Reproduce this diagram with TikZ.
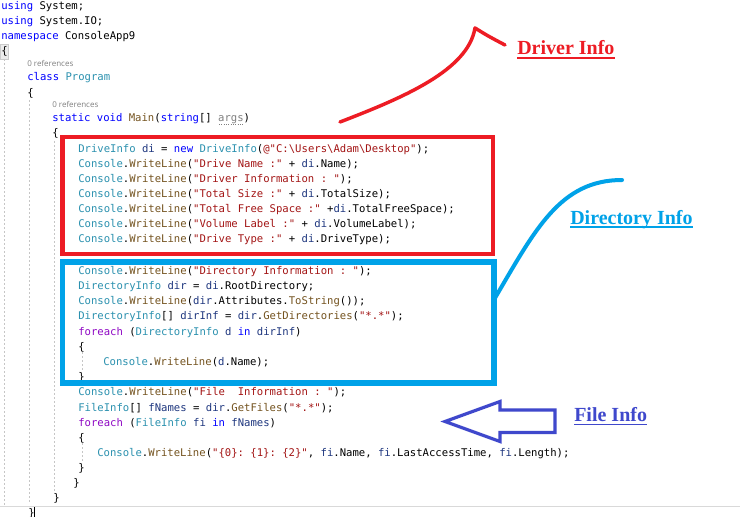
\documentclass[tikz,border=0pt]{standalone}
\usepackage{fontspec}
\setmonofont{DejaVu Sans Mono}
\newfontfamily\labelfont{Liberation Serif Bold}
\newfontfamily\hintfont{Open Sans}
\usepackage{tikz}

\definecolor{kwblue}{HTML}{0000FF}
\definecolor{tyteal}{HTML}{2B91AF}
\definecolor{mtbrown}{HTML}{74531F}
\definecolor{strred}{HTML}{A31515}
\definecolor{varnavy}{HTML}{1F377F}
\definecolor{ctlpurple}{HTML}{8F08C4}
\definecolor{penred}{HTML}{ED1C24}
\definecolor{penblue}{HTML}{00A2E8}
\definecolor{penpurple}{HTML}{3F48CC}

\newcommand{\kw}[1]{\textcolor{kwblue}{#1}}
\newcommand{\ty}[1]{\textcolor{tyteal}{#1}}
\newcommand{\mt}[1]{\textcolor{mtbrown}{#1}}
\newcommand{\st}[1]{\textcolor{strred}{#1}}
\newcommand{\vr}[1]{\textcolor{varnavy}{#1}}
\newcommand{\ct}[1]{\textcolor{ctlpurple}{#1}}
\newcommand{\bs}{\textbackslash}

\begin{document}
\begin{tikzpicture}[x=0.75pt, y=-0.75pt,
    code/.style={anchor=base west, inner sep=0pt, font=\ttfamily\fontsize{7.95}{9}\selectfont},
    hint/.style={anchor=base west, inner sep=0pt, text=gray, font=\hintfont\fontsize{6}{7}\selectfont},
    guide/.style={draw=gray!45, line width=0.75pt, dash pattern=on 1.5pt off 1.5pt},
    pen/.style={line width=#1, line cap=round, line join=round},
    tag/.style={anchor=base west, inner sep=0pt, font=\labelfont\fontsize{15}{18}\selectfont}]
    \useasboundingbox[fill=white] (0,0) rectangle (740,517);

    % indent guides and editor bits
    \draw[guide] (4,59) -- (4,507);
    \draw[guide] (29,100) -- (29,503);
    \draw[guide] (54.5,141) -- (54.5,493);
    \draw[guide] (82,352) -- (82,371);
    \draw[guide] (82,443) -- (82,462);
    \filldraw[fill=gray!15, draw=gray!40, line width=0.5pt] (0,44) rectangle (8.5,59);
    \draw[gray!30, line width=0.75pt] (0,506) -- (740,506);

    % code lines
    \node[code] (l1) at (1,10) {\kw{using} System;};
    \node[code] (l2) at (1,25) {\kw{using} System.IO;};
    \node[code] (l3) at (1,40) {\kw{namespace} ConsoleApp9};
    \node[code] (l4) at (1,55) {\{};
    \node[hint] (ref1) at (27,66.5) {0 references};
    \node[code] (l6) at (27,81) {\kw{class} \ty{Program}};
    \node[code] (l7) at (27,96.5) {\{};
    \node[hint] (ref2) at (52,107.5) {0 references};
    \node[code] (l9) at (52,122) {\kw{static} \kw{void} \mt{Main}(\kw{string}[] \textcolor{gray}{args})};
    \draw[gray, line width=0.75pt, dash pattern=on 0.75pt off 1pt] (219,124.5) -- (243,124.5);
    \node[code] (l10) at (52,137) {\{};

    \node[code] (d1) at (78,152) {\ty{DriveInfo} \vr{di} = \kw{new} \ty{DriveInfo}(\st{@"C:\bs Users\bs Adam\bs Desktop"});};
    \node[code] (d2) at (78,167) {\ty{Console}.\mt{WriteLine}(\st{"Drive Name :"} + \vr{di}.Name);};
    \node[code] (d3) at (78,183) {\ty{Console}.\mt{WriteLine}(\st{"Driver Information : "});};
    \node[code] (d4) at (78,198) {\ty{Console}.\mt{WriteLine}(\st{"Total Size :"} + \vr{di}.TotalSize);};
    \node[code] (d5) at (78,213) {\ty{Console}.\mt{WriteLine}(\st{"Total Free Space :"} +\vr{di}.TotalFreeSpace);};
    \node[code] (d6) at (78,228) {\ty{Console}.\mt{WriteLine}(\st{"Volume Label :"} + \vr{di}.VolumeLabel);};
    \node[code] (d7) at (78,243) {\ty{Console}.\mt{WriteLine}(\st{"Drive Type :"} + \vr{di}.DriveType);};

    \node[code] (r1) at (78,274) {\ty{Console}.\mt{WriteLine}(\st{"Directory Information : "});};
    \node[code] (r2) at (78,289) {\ty{DirectoryInfo} \vr{dir} = \vr{di}.RootDirectory;};
    \node[code] (r3) at (78,304) {\ty{Console}.\mt{WriteLine}(\vr{dir}.Attributes.\mt{ToString}());};
    \node[code] (r4) at (78,319.5) {\ty{DirectoryInfo}[] \vr{dirInf} = \vr{dir}.\mt{GetDirectories}(\st{"*.*"});};
    \node[code] (r5) at (78,335) {\ct{foreach} (\ty{DirectoryInfo} \vr{d} \kw{in} \vr{dirInf})};
    \node[code] (r6) at (78,350.5) {\{};
    \node[code] (r7) at (103,365.5) {\ty{Console}.\mt{WriteLine}(\vr{d}.Name);};
    \node[code] (r8) at (78,380.5) {\}};

    \node[code] (f1) at (78,395) {\ty{Console}.\mt{WriteLine}(\st{"File\ \ Information : "});};
    \node[code] (f2) at (78,411) {\ty{FileInfo}[] \vr{fNames} = \vr{dir}.\mt{GetFiles}(\st{"*.*"});};
    \node[code] (f3) at (78,426) {\ct{foreach} (\ty{FileInfo} \vr{fi} \kw{in} \vr{fNames})};
    \node[code] (f4) at (78,441) {\{};
    \node[code] (f5) at (97,456) {\ty{Console}.\mt{WriteLine}(\st{"\{0\}: \{1\}: \{2\}"}, \vr{fi}.Name, \vr{fi}.LastAccessTime, \vr{fi}.Length);};
    \node[code] (f6) at (78,471) {\}};
    \node[code] (e1) at (73,486) {\}};
    \node[code] (e2) at (53,501) {\}};
    \node[code] (e3) at (28,516) {\}};
    \draw[black, line width=0.6pt] (34,507) -- (34,517);

    % marker boxes
    \draw[penred, line width=3.4pt] (62.5,137) rectangle (493,254);
    \draw[penblue, line width=4pt] (62.5,262) rectangle (494,383);

    % hand drawn pointers
    \coordinate (drvTail) at (340,122);
    \coordinate (drvTip) at (475,28);
    \coordinate (drvHook) at (505,45);
    \draw[penred, pen=2.6pt] (drvTail) .. controls (405,97) and (468,70) .. (drvTip)
        .. controls (488,36) .. (drvHook);
    \coordinate (dirFoot) at (495,298);
    \coordinate (dirEnd) at (622,180);
    \draw[penblue, pen=3pt] (dirFoot) .. controls (535,230) and (560,180) .. (dirEnd);
    \draw[penpurple, line width=2.4pt, line join=miter]
        (445,421.5) -- (500,401.5) -- (500,410) -- (555,410) -- (555,432.5)
        -- (500,432.5) -- (500,441.5) -- cycle;

    % labels
    \node[tag, text=penred] (drv) at (517,55) {Driver Info};
    \draw[penred, line width=0.9pt] ([yshift=-2.2pt]drv.base west) -- ([yshift=-2.2pt]drv.base east);
    \node[tag, text=penblue] (dir) at (570,224) {Directory Info};
    \draw[penblue, line width=0.9pt] ([yshift=-2.2pt]dir.base west) -- ([yshift=-2.2pt]dir.base east);
    \node[tag, text=penpurple] (fil) at (574,421.5) {File Info};
    \draw[penpurple, line width=0.9pt] ([yshift=-2.2pt]fil.base west) -- ([yshift=-2.2pt]fil.base east);
\end{tikzpicture}
\end{document}
